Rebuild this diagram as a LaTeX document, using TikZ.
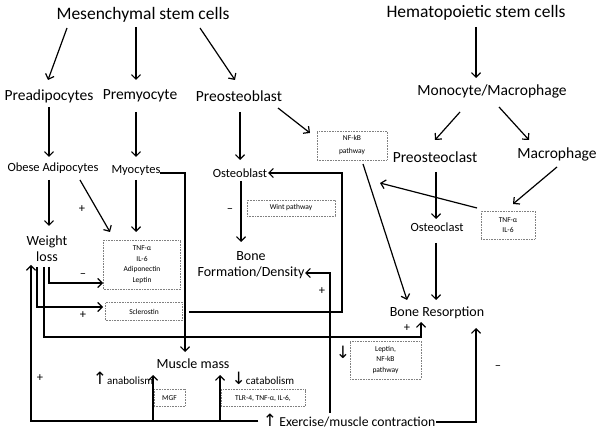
\documentclass[tikz,border=0pt]{standalone}
\usepackage{fontspec}
\setmainfont{Carlito}
\newfontfamily\arrowfont{DejaVu Sans}
\usetikzlibrary{arrows.meta}
\tikzset{>={Straight Barb[length=4.5pt,width=9pt]}}
\tikzset{
  big/.style={font=\fontsize{17.5}{19}\selectfont, inner sep=1pt},
  lvl/.style={font=\fontsize{15.5}{17}\selectfont, inner sep=1pt},
  mid/.style={font=\fontsize{14}{16}\selectfont, align=center, inner sep=1pt},
  sml/.style={font=\fontsize{12.5}{14}\selectfont, inner sep=1pt},
  tag/.style={font=\fontsize{11}{13}\selectfont, inner sep=1pt},
  box/.style={draw=gray, densely dotted, line width=0.6pt, font=\fontsize{7.5}{10.5}\selectfont,
    align=center, inner sep=1pt},
  sign/.style={font=\fontsize{12.5}{12}\selectfont, inner sep=0pt},
  link/.style={->, line width=1.2pt},
}
\newcommand{\up}{{\arrowfont\fontsize{17}{17}\selectfont ↑}}
\newcommand{\down}{{\arrowfont\fontsize{17}{17}\selectfont ↓}}

\begin{document}
\begin{tikzpicture}[x=1pt,y=-1pt]
\useasboundingbox (0,0) rectangle (602,435);

\node[big] (msc) at (143,15) {Mesenchymal stem cells};
\node[big] (hsc) at (476,13) {Hematopoietic stem cells};
\node[lvl] (preadip) at (49,96) {Preadipocytes};
\node[lvl] (premyo) at (140,96) {Premyocyte};
\node[lvl] (preob) at (239,96) {Preosteoblast};
\node[lvl] (mono) at (492,91) {Monocyte/Macrophage};
\node[lvl] (preoc) at (435,157) {Preosteoclast};
\node[lvl] (macro) at (557,154) {Macrophage};
\node[sml] (obese) at (53,168) {Obese Adipocytes};
\node[sml] (myo) at (136,170) {Myocytes};
\node[sml] (ob) at (240,173) {Osteoblast};
\node[sml] (oc) at (437,227) {Osteoclast};
\node[mid] (wl) at (47,249) {Weight\\loss};
\node[mid] (bf) at (251,265) {Bone\\Formation/Density};
\node[mid] (br) at (437,313) {Bone Resorption};
\node[mid] (mm) at (193,364) {Muscle mass};
\node[font=\fontsize{13.7}{15}\selectfont, inner sep=1pt] (ex) at (349,421) {\up\,Exercise/muscle contraction};
\node[tag] (anab) at (123,378) {\up anabolism};
\node[tag] (catab) at (263,378) {\down catabolism};
\node[tag] (lepdn) at (343,352) {\down};

\node[box, font=\fontsize{7.5}{13}\selectfont, minimum width=70pt, minimum height=29pt] (nfkb) at (352,145.5) {NF-kB\\pathway};
\node[box, minimum width=88pt, minimum height=16pt] (wnt) at (291,208) {Wint pathway};
\node[box, minimum width=54pt, minimum height=28pt] (tnf) at (508,225) {TNF-α\\IL-6};
\node[box, minimum width=77pt, minimum height=49pt] (cyto) at (142,264.5) {TNF-α\\IL-6\\Adiponectin\\Leptin};
\node[box, minimum width=77pt, minimum height=18pt] (scl) at (144,311.5) {Sclerostin};
\node[box, minimum width=71pt, minimum height=38pt] (lep) at (385.5,360) {Leptin,\\NF-kB\\pathway};
\node[box, minimum width=31pt, minimum height=17pt] (mgf) at (169.5,398) {MGF};
\node[box, minimum width=84pt, minimum height=17pt] (tlr) at (263,398) {TLR-4, TNF-α, IL-6,};
\coordinate (tnfhit) at (380,183);

\draw[link] ([shift={(-76,13)}]msc.center) -- ([shift={(-1,-16)}]preadip.center);
\draw[link] ([shift={(-7,12)}]msc.center) -- ([shift={(-4,-16)}]premyo.center);
\draw[link] ([shift={(57,13)}]msc.center) -- ([shift={(-4,-16)}]preob.center);
\draw[link] ([shift={(0,14)}]hsc.center) -- ([shift={(-16,-13)}]mono.center);
\draw[link] ([shift={(-32,21)}]mono.center) -- ([shift={(0,-17)}]preoc.center);
\draw[link] ([shift={(7,16)}]mono.center) -- ([shift={(-28,-14)}]macro.center);
\draw[link] ([shift={(0,11)}]preadip.center) -- ([shift={(-4,-11)}]obese.center);
\draw[link] ([shift={(-4,16)}]premyo.center) -- ([shift={(0,-13)}]myo.center);
\draw[link] ([shift={(1,16)}]preob.center) -- ([shift={(0,-13)}]ob.center);
\draw[link] ([shift={(39,12)}]preob.center) -- ([shift={(-42,-12.5)}]nfkb.center);
\draw[link] ([shift={(-4,12)}]obese.center) -- ([shift={(2,-23)}]wl.center);
\draw[link] ([shift={(27,12)}]obese.center) -- ([shift={(-32,-32.5)}]cyto.center);
\draw[link] ([shift={(0,10)}]myo.center) -- ([shift={(-6,-32.5)}]cyto.center);
\draw[link] ([shift={(24,3)}]myo.center) -| ([shift={(-8,-12)}]mm.center);
\draw[link] ([shift={(1,8)}]ob.center) -- ([shift={(-10,-23)}]bf.center);
\draw[link] ([shift={(45,0.5)}]scl.center) -- ++(153,0) |- ([shift={(28,0)}]ob.center);
\draw[link] ([shift={(-19,-8)}]ex.center) |- ([shift={(54,8)}]bf.center);
\draw[link] ([shift={(1,15)}]preoc.center) -- ([shift={(-1,-8)}]oc.center);
\draw[link] ([shift={(-1,16)}]oc.center) -- ([shift={(-1,-13)}]br.center);
\draw[link] ([shift={(0,13)}]macro.center) -- ([shift={(5,-21)}]tnf.center);
\draw[link] ([shift={(-31,-17)}]tnf.center) -- (tnfhit);
\draw[link] ([shift={(11,18.5)}]nfkb.center) -- ([shift={(-30,-13)}]br.center);
\draw[link] ([shift={(2,18)}]wl.center) |- ([shift={(-39,18.5)}]cyto.center);
\draw[link] ([shift={(-10,18)}]wl.center) |- ([shift={(-41,-4.5)}]scl.center);
\draw[link] ([shift={(-3,18)}]wl.center) -- ++(0,70) -| ([shift={(-16,9)}]br.center);
\draw[link] ([shift={(-91,0)}]ex.center) -| ([shift={(-16,16)}]wl.center);
\draw[link] ([shift={(-91,0)}]ex.center) -| ([shift={(-40,11)}]mm.center);
\draw[link] ([shift={(-91,0)}]ex.center) -| ([shift={(27,11)}]mm.center);
\draw[link] ([shift={(87,1)}]ex.center) -| ([shift={(39,15)}]br.center);

\node[sign] at (82,209) {+};
\node[sign] at (83,276) {–};
\node[sign] at (83,315) {+};
\node[sign] at (230,211) {–};
\node[sign] at (322,291) {+};
\node[sign] at (407,328) {+};
\node[sign] at (498,368) {–};
\node[sign] at (40,378) {+};
\end{tikzpicture}
\end{document}
